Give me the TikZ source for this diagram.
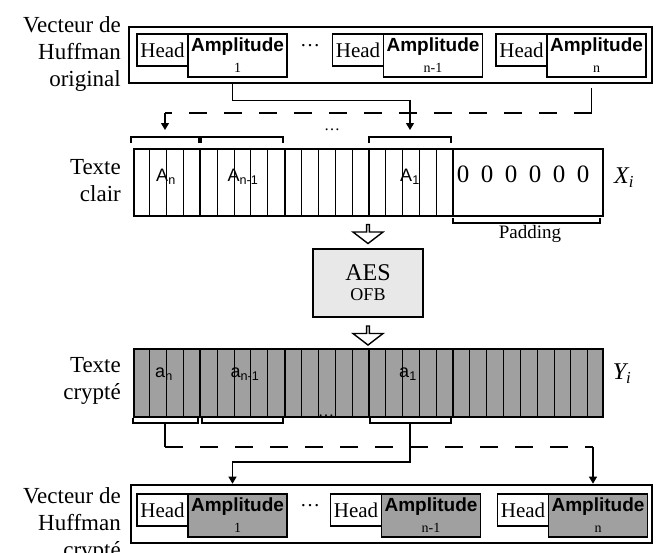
\documentclass[tikz,border=0pt]{standalone}
\usepackage{fontspec}
\setmainfont{Liberation Serif}
\newfontfamily\arialfont{Liberation Sans}
\definecolor{aesgray}{RGB}{232,232,232}
\definecolor{cryptgray}{RGB}{160,160,160}
\usetikzlibrary{shapes.arrows, arrows.meta, calc}

\begin{document}
\begin{tikzpicture}[x=1pt, y=-1pt,
  rowlabel/.style={align=right, anchor=east, inner sep=0pt, font=\fontsize{23}{27}\selectfont},
  vecbox/.style={draw, line width=2.6pt, inner sep=0pt},
  headbox/.style={draw, line width=1.1pt, inner sep=0pt, outer sep=0pt, minimum width=51pt, minimum height=32pt, font=\fontsize{21}{21}\selectfont},
  ampbox/.style={draw, line width=1.1pt, inner sep=0pt, outer sep=0pt, anchor=north west, minimum width=99pt, minimum height=43pt, align=center, font=\arialfont\bfseries\fontsize{19}{22}\selectfont},
  hollow/.style={draw, line width=1.4pt, fill=white, shape=single arrow, shape border rotate=270, inner sep=0pt, minimum width=30pt, minimum height=19pt, single arrow head extend=7pt, single arrow tip angle=105},
  conn/.style={line width=1.1pt, -{Triangle[width=8pt,length=7pt]}},
  dashline/.style={line width=1.1pt, dash pattern=on 18pt off 17pt},
  bracket/.style={line width=1.1pt},
  cellfont/.style={font=\arialfont\fontsize{18}{18}\selectfont}]
  \useasboundingbox (0,0) rectangle (661,552);

  % Original Huffman vector
  \node[rowlabel] (lorig) at (121,54) {Vecteur de\\Huffman\\original};
  \node[vecbox, minimum width=523pt, minimum height=56pt] (huffo) at (390.5,55) {};
  \node[headbox] (ho1) at (162.5,50) {Head};
  \node[ampbox] (ao1) at (ho1.north east) {Amplitude\\[-1pt]{\rmfamily\mdseries\fontsize{14}{14}\selectfont 1}};
  \node[font=\fontsize{20}{20}\selectfont] (dotso) at (310,46) {\ldots};
  \node[headbox] (ho2) at (358,50) {Head};
  \node[ampbox] (ao2) at (ho2.north east) {Amplitude\\[-1pt]{\rmfamily\mdseries\fontsize{14}{14}\selectfont n-1}};
  \node[headbox] (ho3) at (521.5,50) {Head};
  \node[ampbox] (ao3) at (ho3.north east) {Amplitude\\[-1pt]{\rmfamily\mdseries\fontsize{14}{14}\selectfont n}};

  % Plain text block
  \node[rowlabel] (lclair) at (121,181) {Texte\\clair};
  \node[draw, line width=2.4pt, inner sep=0pt, anchor=north west, minimum width=469pt, minimum height=67pt] (clair) at (133,148) {};
  \foreach \k in {1,...,18}
    \draw[line width=0.9pt] (133+\k*16.842,148) -- (133+\k*16.842,215);
  \foreach \k in {4,9,14}
    \draw[line width=2pt] (133+\k*16.842,148) -- (133+\k*16.842,215);
  \draw[line width=2.2pt] (133+19*16.842,148) -- (133+19*16.842,215);
  \node[cellfont] (an) at (166,177) {A\textsubscript{n}};
  \node[cellfont] (an1) at (243,177) {A\textsubscript{n-1}};
  \node[cellfont] (a1) at (410,177) {A\textsubscript{1}};
  \foreach \x in {463,487,511,535,559,583}
    \node[font=\fontsize{25}{25}\selectfont] at (\x,174) {0};
  \node[font=\fontsize{24}{24}\selectfont\itshape] (xi) at (624,178) {X\textsubscript{i}};

  % brackets above the plain text
  \draw[bracket] (131,143) -- (131,137) -- (199,137) -- (199,143);
  \draw[bracket] (201,143) -- (201,137) -- (283,137) -- (283,143);
  \draw[bracket] (369,143) -- (369,137) -- (451,137) -- (451,143);
  \coordinate (bn) at (165,137);
  \coordinate (b1) at (410,137);
  \node[font=\fontsize{16}{16}\selectfont] (dotsc) at (332,130) {\ldots};

  % Padding
  \draw[bracket] (453,218) -- (453,223) -- (600,223) -- (600,218);
  \node[font=\fontsize{19}{19}\selectfont] (pad) at (530,234) {Padding};

  % Connectors from the original vector
  \draw[conn] ([xshift=-5pt]ao1.south |- huffo.south) -- ++(0,16) -| ([yshift=7pt]b1);
  \coordinate (dashl) at (165,113);
  \coordinate (dashr) at ([xshift=-5pt]ao3.south |- dashl);
  \draw[line width=1.1pt] ([xshift=-5pt,yshift=-4pt]ao3.south |- huffo.south) -- (dashr);
  \draw[dashline] (dashr) -- (dashl);
  \draw[conn] (dashl) -- ([yshift=7pt]bn);

  % AES
  \node[hollow] (h1) at (368,233.5) {};
  \node[draw, line width=2.2pt, fill=aesgray, minimum width=110pt, minimum height=68pt, align=center] (aes) at (368,283) {{\fontsize{24}{24}\selectfont AES}\\[7pt]{\fontsize{18}{18}\selectfont OFB}};
  \node[hollow] (h2) at (368,335) {};

  % Cipher text block
  \node[rowlabel] (lcrypt) at (121,381) {Texte\\crypté};
  \node[draw, line width=2.4pt, fill=cryptgray, inner sep=0pt, anchor=north west, minimum width=469pt, minimum height=68pt] (crypt) at (133,348) {};
  \foreach \k in {1,...,27}
    \draw[line width=0.9pt] (133+\k*16.842,348) -- (133+\k*16.842,416);
  \foreach \k in {4,9,14,19}
    \draw[line width=2pt] (133+\k*16.842,348) -- (133+\k*16.842,416);
  \node[cellfont] (cn) at (164,374) {a\textsubscript{n}};
  \node[cellfont] (cn1) at (245,374) {a\textsubscript{n-1}};
  \node[cellfont] (c1) at (408,374) {a\textsubscript{1}};
  \node[font=\fontsize{24}{24}\selectfont\itshape] (yi) at (622,374) {Y\textsubscript{i}};

  % brackets below the cipher text
  \draw[bracket] (133,418) -- (133,423) -- (198,423) -- (198,418);
  \draw[bracket] (202,418) -- (202,423) -- (283,423) -- (283,418);
  \draw[bracket] (370,418) -- (370,423) -- (451,423) -- (451,418);
  \coordinate (bcn) at (165,423);
  \coordinate (bc1) at (410,423);
  \node[font=\fontsize{16}{16}\selectfont] (dotsb) at (326,416) {\ldots};

  % Encrypted Huffman vector
  \node[rowlabel] (lcryptv) at (121,525) {Vecteur de\\Huffman\\crypté};
  \node[vecbox, minimum width=521pt, minimum height=58pt] (huffc) at (391.5,514) {};
  \node[headbox] (hc1) at (162.5,510) {Head};
  \node[ampbox, fill=cryptgray] (ac1) at (hc1.north east) {Amplitude\\[-1pt]{\rmfamily\mdseries\fontsize{14}{14}\selectfont 1}};
  \node[font=\fontsize{20}{20}\selectfont] (dotsv) at (310,506) {\ldots};
  \node[headbox] (hc2) at (356,510) {Head};
  \node[ampbox, fill=cryptgray] (ac2) at (hc2.north east) {Amplitude\\[-1pt]{\rmfamily\mdseries\fontsize{14}{14}\selectfont n-1}};
  \node[headbox] (hc3) at (523,510) {Head};
  \node[ampbox, fill=cryptgray] (ac3) at (hc3.north east) {Amplitude\\[-1pt]{\rmfamily\mdseries\fontsize{14}{14}\selectfont n}};

  % Connectors to the encrypted vector
  \coordinate (dashl2) at (165,447);
  \coordinate (dashr2) at ([xshift=-5pt]ac3.north |- dashl2);
  \draw[line width=1.1pt] (bcn) -- (dashl2);
  \draw[dashline] (dashl2) -- (dashr2);
  \draw[conn] (dashr2) -- ([xshift=-5pt]ac3.north |- huffc.north);
  \draw[conn] (bc1) -- ++(0,39) -| ([xshift=-5pt]ac1.north |- huffc.north);
\end{tikzpicture}
\end{document}
